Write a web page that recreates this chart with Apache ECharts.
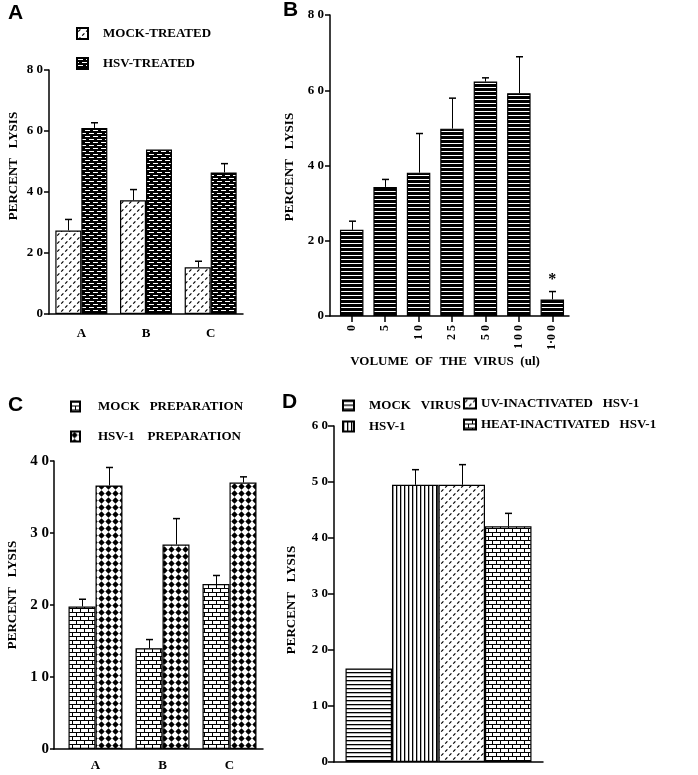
<!DOCTYPE html>
<html><head><meta charset="utf-8">
<script src="https://cdn.jsdelivr.net/npm/echarts@6/dist/echarts.min.js"></script>
<style>html,body{margin:0;padding:0;background:#fff}#c{width:698px;height:775px}</style>
</head><body><div id="c"></div>
<script>
// ---------- Panel A ----------
const aCategories = ['A', 'B', 'C'];
const aMockName = 'MOCK-TREATED';
const aHsvName = 'HSV-TREATED';
const aMock = [27.4, 37.3, 15.3];
const aMockSD = [3.6, 3.5, 2.0];
const aHsv = [61.0, 53.9, 46.4];
const aHsvSD = [1.7, 0, 2.9];
// ---------- Panel B ----------
const bCategories = ['0', '5', '1 0', '2 5', '5 0', '1 0 0', '1·0 0'];
const bValues = [22.9, 34.3, 38.1, 49.8, 62.3, 59.2, 4.4];
const bSD = [2.3, 2.0, 10.4, 8.1, 1.0, 9.7, 2.1];
const bNotes = ['', '', '', '', '', '', '*'];
const bXTitle = 'VOLUME  OF  THE  VIRUS  (ul)';
// ---------- Panel C ----------
const cCategories = ['A', 'B', 'C'];
const cMockName = 'MOCK   PREPARATION';
const cHsvName = 'HSV-1    PREPARATION';
const cMock = [19.8, 14.0, 22.9];
const cMockSD = [1.0, 1.2, 1.2];
const cHsv = [36.6, 28.4, 37.0];
const cHsvSD = [2.5, 3.6, 0.8];
// ---------- Panel D ----------
const dNames = ['MOCK   VIRUS', 'HSV-1', 'UV-INACTIVATED   HSV-1', 'HEAT-INACTIVATED   HSV-1'];
const dValues = [16.7, 49.5, 49.5, 42.1];
const dSD = [0, 2.7, 3.6, 2.3];
const yTitle = 'PERCENT   LYSIS';

// ---------- patterns ----------
function tile(w, h, draw) {
  const c = document.createElement('canvas');
  c.width = w; c.height = h;
  const g = c.getContext('2d');
  g.fillStyle = '#fff'; g.fillRect(0, 0, w, h);
  g.fillStyle = '#000'; g.strokeStyle = '#000';
  draw(g, w, h);
  return { image: c, repeat: 'repeat' };
}
const patDash = tile(8, 8, g => {
  g.lineWidth = 1.2; g.beginPath();
  g.moveTo(1.2, 3.6); g.lineTo(3.4, 1.4);
  g.moveTo(5.2, 7.6); g.lineTo(7.4, 5.4);
  g.stroke();
});
const patDarkBrick = tile(8, 6, g => {
  g.fillRect(0, 0, 8, 6); g.fillStyle = '#fff';
  g.fillRect(1, 1, 5, 1); g.fillRect(5, 4, 5, 1); g.fillRect(-3, 4, 5, 1);
});
const patStripe = tile(1, 4, g => { g.fillRect(0, 0, 1, 3); });
const patBrick = tile(8, 8, g => {
  g.fillRect(0, 0, 8, 1); g.fillRect(0, 4, 8, 1);
  g.fillRect(0, 0, 1, 4); g.fillRect(4, 4, 1, 4);
});
const patDiamond = tile(7, 7, g => {
  g.beginPath(); g.moveTo(3.5, 0.3); g.lineTo(6.7, 3.5); g.lineTo(3.5, 6.7); g.lineTo(0.3, 3.5);
  g.closePath(); g.fill();
});
const patHLines = tile(1, 4, g => { g.fillRect(0, 0, 1, 1.3); });
const patVLines = tile(4, 1, g => { g.fillRect(0, 0, 1.3, 1); });
const dPatterns = [patHLines, patVLines, patDash, patBrick];

const SERIF = '"Liberation Serif", "DejaVu Serif", serif';
const SANS = '"Liberation Sans", Arial, sans-serif';
const spaced = v => String(v).split('').join(' ');

function errSeries(xi, yi, rows, bw) {
  return {
    type: 'custom', xAxisIndex: xi, yAxisIndex: yi, data: rows, z: 5, silent: true,
    renderItem: (params, api) => {
      const off = api.value(3) * bw;
      const p0 = api.coord([api.value(0), api.value(1)]);
      const p1 = api.coord([api.value(0), api.value(2)]);
      const x = Math.round(p0[0] + off) + 0.5;
      return { type: 'group', children: [
        { type: 'line', shape: { x1: x, y1: p0[1], x2: x, y2: p1[1] }, style: { stroke: '#000', lineWidth: 1 } },
        { type: 'line', shape: { x1: x - 3.5, y1: p1[1], x2: x + 3.5, y2: p1[1] }, style: { stroke: '#000', lineWidth: 1.5 } }
      ] };
    }
  };
}
function errRows(vals, sds, slot) {
  const r = [];
  vals.forEach((v, i) => { if (sds[i] > 0) r.push([i, v, v + sds[i], slot]); });
  return r;
}

const axisLineStyle = { show: true, lineStyle: { color: '#000', width: 1.5 } };
function yAxisCfg(grid, max, interval, fontSize, margin, tickLen) {
  return {
    type: 'value', gridIndex: grid, min: 0, max: max, interval: interval,
    splitLine: { show: false }, axisLine: axisLineStyle,
    axisTick: { show: true, length: tickLen, lineStyle: { color: '#000', width: 1.5 } },
    axisLabel: { formatter: spaced, fontFamily: SERIF, fontWeight: 'bold', fontSize: fontSize, color: '#000', margin: margin }
  };
}
function hiddenY(grid, max) {
  return { type: 'value', gridIndex: grid, min: 0, max: max, show: false };
}
function frameX(grid) {
  return { type: 'value', gridIndex: grid, min: 0, max: 1, axisLine: axisLineStyle,
    axisTick: { show: false }, axisLabel: { show: false }, splitLine: { show: false } };
}
const legendText = (pad, size) => ({ fontFamily: SERIF, fontWeight: 'bold', fontSize: size, color: '#000', padding: [0, 0, 0, pad], lineHeight: 11 });
const barStyle = c => ({ color: c, borderColor: '#000', borderWidth: 1.2 });

const option = {
  animation: false,
  backgroundColor: '#fff',
  grid: [
    { left: 49, top: 70, width: 194, height: 244 },
    { left: 330, top: 15, width: 239, height: 301 },
    { left: 335, top: 15, width: 234, height: 301 },
    { left: 54, top: 461, width: 209, height: 288 },
    { left: 62, top: 461, width: 201, height: 288 },
    { left: 334, top: 426, width: 209, height: 336 }
  ],
  xAxis: [
    { type: 'category', gridIndex: 0, data: aCategories, axisLine: axisLineStyle, axisTick: { show: false },
      axisLabel: { fontFamily: SERIF, fontWeight: 'bold', fontSize: 13, color: '#000', margin: 13 } },
    frameX(1),
    { type: 'category', gridIndex: 2, data: bCategories, axisLine: { show: false },
      axisTick: { show: true, alignWithLabel: true, length: 6, lineStyle: { color: '#000', width: 1.5 } },
      axisLabel: { rotate: 90, fontFamily: SERIF, fontWeight: 'bold', fontSize: 12, color: '#000', margin: 9 } },
    frameX(3),
    { type: 'category', gridIndex: 4, data: cCategories, axisLine: { show: false }, axisTick: { show: false },
      axisLabel: { fontFamily: SERIF, fontWeight: 'bold', fontSize: 13, color: '#000', margin: 10 } },
    { type: 'category', gridIndex: 5, data: [''], axisLine: axisLineStyle, axisTick: { show: false }, axisLabel: { show: false } }
  ],
  yAxis: [
    yAxisCfg(0, 80, 20, 13, 6, 5),
    yAxisCfg(1, 80, 20, 13, 6, 5),
    hiddenY(2, 80),
    yAxisCfg(3, 40, 10, 15, 5, 4),
    hiddenY(4, 40),
    yAxisCfg(5, 60, 10, 13, 6, 6)
  ],
  legend: [
    { data: [aMockName, aHsvName], left: 76, top: 27, orient: 'vertical', itemWidth: 11, itemHeight: 11, itemGap: 17,
      padding: 0, selectedMode: false, icon: 'rect', textStyle: legendText(10, 13) },
    { data: [cMockName, cHsvName], left: 70, top: 400, orient: 'vertical', itemWidth: 9, itemHeight: 10, itemGap: 17,
      padding: 0, selectedMode: false, icon: 'rect', textStyle: legendText(13, 13) },
    { data: [dNames[0], dNames[1]], left: 342, top: 399, orient: 'vertical', itemWidth: 11, itemHeight: 10, itemGap: 8,
      padding: 0, selectedMode: false, icon: 'rect', textStyle: legendText(10, 13) },
    { data: [dNames[2], dNames[3]], left: 463, top: 397, orient: 'vertical', itemWidth: 12, itemHeight: 10, itemGap: 8,
      padding: 0, selectedMode: false, icon: 'rect', textStyle: legendText(0, 13) }
  ],
  graphic: [
    { type: 'text', x: 8, y: 3, style: { text: 'A', font: 'bold 21px ' + SANS, fill: '#000' } },
    { type: 'text', x: 283, y: 0, style: { text: 'B', font: 'bold 21px ' + SANS, fill: '#000' } },
    { type: 'text', x: 8, y: 395, style: { text: 'C', font: 'bold 21px ' + SANS, fill: '#000' } },
    { type: 'text', x: 282, y: 392, style: { text: 'D', font: 'bold 21px ' + SANS, fill: '#000' } },
    { type: 'text', x: 14, y: 166, rotation: Math.PI / 2, style: { text: yTitle, font: 'bold 13px ' + SERIF, fill: '#000', align: 'center', verticalAlign: 'middle' } },
    { type: 'text', x: 290, y: 167, rotation: Math.PI / 2, style: { text: yTitle, font: 'bold 13px ' + SERIF, fill: '#000', align: 'center', verticalAlign: 'middle' } },
    { type: 'text', x: 13, y: 595, rotation: Math.PI / 2, style: { text: yTitle, font: 'bold 13px ' + SERIF, fill: '#000', align: 'center', verticalAlign: 'middle' } },
    { type: 'text', x: 292, y: 600, rotation: Math.PI / 2, style: { text: yTitle, font: 'bold 13px ' + SERIF, fill: '#000', align: 'center', verticalAlign: 'middle' } },
    { type: 'text', x: 445, y: 362, style: { text: bXTitle, font: 'bold 13px ' + SERIF, fill: '#000', align: 'center', verticalAlign: 'middle' } }
  ],
  series: [
    { name: aMockName, type: 'bar', xAxisIndex: 0, yAxisIndex: 0, data: aMock, barWidth: 26, barGap: '0%', itemStyle: barStyle(patDash) },
    { name: aHsvName, type: 'bar', xAxisIndex: 0, yAxisIndex: 0, data: aHsv, barWidth: 26, barGap: '0%', itemStyle: barStyle(patDarkBrick) },
    errSeries(0, 0, errRows(aMock, aMockSD, -0.5).concat(errRows(aHsv, aHsvSD, 0.5)), 26),

    { name: 'B', type: 'bar', xAxisIndex: 2, yAxisIndex: 2, barWidth: 23.5, itemStyle: barStyle(patStripe),
      data: bValues.map((v, i) => bNotes[i] ? { value: v, label: { show: true, formatter: bNotes[i], position: 'top', distance: 12,
        fontFamily: SERIF, fontWeight: 'bold', fontSize: 16, color: '#000' } } : v) },
    errSeries(2, 2, errRows(bValues, bSD, 0), 0),

    { name: cMockName, type: 'bar', xAxisIndex: 4, yAxisIndex: 4, data: cMock, barWidth: 27, barGap: '0%', itemStyle: barStyle(patBrick) },
    { name: cHsvName, type: 'bar', xAxisIndex: 4, yAxisIndex: 4, data: cHsv, barWidth: 27, barGap: '0%', itemStyle: barStyle(patDiamond) },
    errSeries(4, 4, errRows(cMock, cMockSD, -0.5).concat(errRows(cHsv, cHsvSD, 0.5)), 27),

    ...dNames.map((n, i) => ({ name: n, type: 'bar', xAxisIndex: 5, yAxisIndex: 5, data: [dValues[i]], barWidth: 46.5, barGap: '0%',
      itemStyle: barStyle(dPatterns[i]) })),
    errSeries(5, 5, dValues.map((v, i) => [0, v, v + dSD[i], i - 1.5]).filter((r, i) => dSD[i] > 0), 46.5)
  ]
};
const chart = echarts.init(document.getElementById('c'), null, { renderer: 'canvas' });
chart.setOption(option);
</script></body></html>
